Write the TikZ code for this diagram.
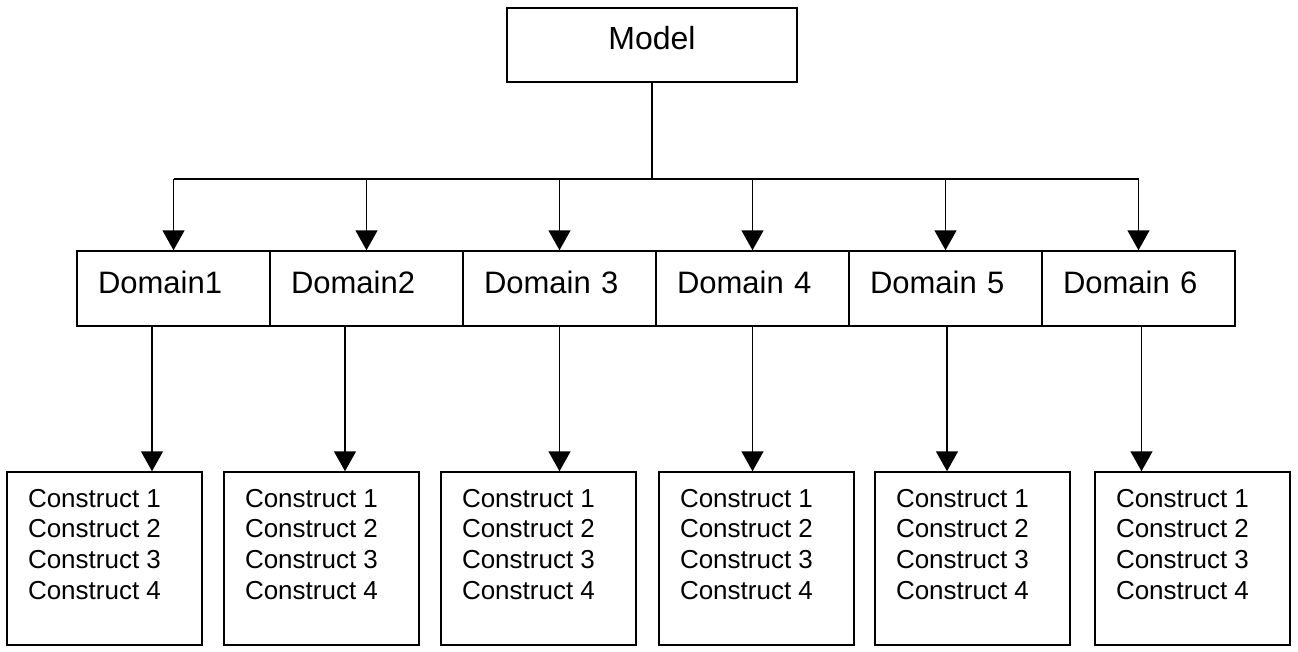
\documentclass[tikz,border=0pt]{standalone}
\usepackage{fontspec}
\setmainfont{Liberation Sans}
\usetikzlibrary{arrows.meta}
\begin{document}
\begin{tikzpicture}[x=1pt, y=-1pt, line width=1.5pt,
  modelbox/.style={draw, inner sep=0pt, minimum width=290pt, minimum height=74pt,
    font=\fontsize{32pt}{38pt}\selectfont, text height=23pt, text depth=15pt},
  dombox/.style={draw, minimum width=193pt, minimum height=75pt,
    inner xsep=21pt, inner ysep=0pt, text width=151pt, align=left,
    font=\fontsize{31pt}{37pt}\selectfont, text height=22pt, text depth=13pt},
  conbox/.style={draw, inner sep=0pt, minimum width=195pt, minimum height=173pt},
  context/.style={inner sep=0pt, align=left, anchor=north west,
    font=\fontsize{26pt}{30.8pt}\selectfont},
  arr/.style={-{Triangle[width=22pt,length=20pt]}}]
\useasboundingbox (0,0) rectangle (1298,651);

% top level
\node[modelbox] (model) at (652,45) {Model};

% domain row
\node[dombox] (d1) at (173.5,288.5) {Domain1};
\node[dombox] (d2) at (366.5,288.5) {Domain2};
\node[dombox] (d3) at (559.5,288.5) {Domain 3};
\node[dombox] (d4) at (752.5,288.5) {Domain 4};
\node[dombox] (d5) at (945.5,288.5) {Domain 5};
\node[dombox] (d6) at (1138.5,288.5) {Domain 6};

% construct boxes
\foreach \i/\x in {1/104.5, 2/321.5, 3/538.5, 4/756.5, 5/972.5, 6/1192.5} {
  \node[conbox] (c\i) at (\x,558.5) {};
  \node[context] (t\i) at ([xshift=21pt,yshift=-17pt]c\i.north west)
    {Construct 1\\Construct 2\\Construct 3\\Construct 4};
}

% bus from the model to the domains
\coordinate (bus) at (652,179);
\draw (model.south) -- (bus);
\draw (bus -| d1.north) -- (bus -| d6.north);
\foreach \i in {1,...,6} {
  \draw[arr] (bus -| d\i.north) -- (d\i.north);
}

% domains to constructs
\foreach \i/\dx in {1/-21.5, 2/-21.5, 3/0, 4/0, 5/1.5, 6/3} {
  \coordinate (o\i) at ([xshift=\dx pt]d\i.south);
  \draw[arr] (o\i) -- (o\i |- c\i.north);
}
\end{tikzpicture}
\end{document}
